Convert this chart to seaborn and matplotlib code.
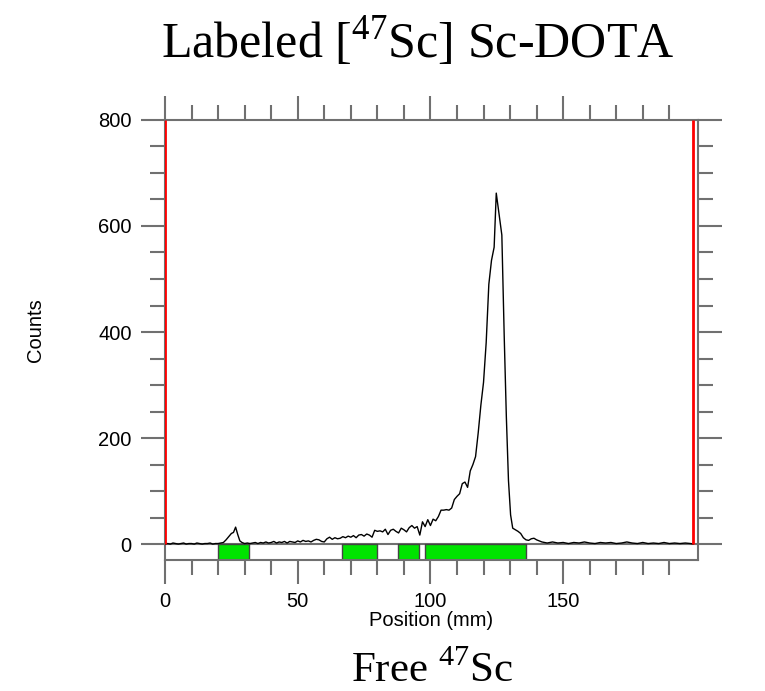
import numpy as np
import pandas as pd
import matplotlib
matplotlib.use('Agg')
import matplotlib.pyplot as plt
import seaborn as sns

# radio-TLC scan data
position = [0, 1, 2, 3, 4, 5, 6, 7, 8, 9, 10, 11, 12, 13, 14, 15, 16, 17, 18, 19, 20, 21,
            22, 23, 24, 25, 25.8, 26.6, 27.4, 28.2, 29, 30,
            31, 32, 33, 34, 35, 36, 37, 38, 39, 40, 41, 42, 43, 44, 45, 46, 47, 48, 49, 50,
            51, 52, 53, 54, 55, 56, 57, 58, 59, 60, 61, 62, 63, 64, 65, 66, 67, 68, 69, 70,
            71, 72, 73, 74, 75, 76, 77, 78, 79, 80, 81, 82, 83, 84, 85, 86, 87, 88, 89, 90,
            91, 92, 93, 94, 95, 96, 97, 98, 99, 100, 101, 102, 103, 104, 105, 106, 107, 108,
            109, 110, 111, 112, 113, 114, 115, 116, 117, 118, 119, 120, 121, 122, 123, 124,
            124.8, 126.9, 127.8, 128.6, 129.4, 130.2, 131, 132, 133, 134, 135, 136, 137, 138,
            139, 140, 141, 142, 143, 144, 146, 148, 150, 152, 154, 156, 158, 160, 162, 164,
            166, 168, 170, 172, 174, 176, 178, 180, 182, 184, 186, 188, 190, 192, 194, 196,
            198, 199]
counts = [0, 1, 0, 2, 1, 0, 1, 2, 0, 1, 1, 0, 2, 1, 0, 1, 1, 2, 0, 1, 1, 2,
          3, 8, 14, 20, 22, 32, 18, 6, 3, 1,
          2, 1, 2, 3, 1, 3, 2, 4, 2, 3, 5, 2, 4, 3, 5, 2, 5, 4, 3, 6,
          4, 7, 5, 6, 4, 7, 9, 8, 5, 4, 10, 13, 9, 12, 10, 11, 14, 12, 15, 13,
          16, 12, 17, 18, 15, 19, 17, 13, 26, 24, 25, 23, 28, 18, 26, 28, 24, 21, 30, 27,
          23, 31, 35, 30, 33, 17, 42, 33, 46, 35, 47, 44, 52, 64, 64, 65, 64, 68,
          84, 90, 95, 114, 117, 107, 138, 150, 165, 210, 262, 305, 380, 490, 535, 560,
          662, 583, 391, 240, 120, 55, 30, 27, 24, 20, 12, 8, 7, 10,
          11, 8, 6, 4, 3, 2, 4, 2, 3, 1, 3, 2, 4, 2, 1, 3,
          2, 3, 1, 2, 4, 2, 1, 3, 1, 2, 1, 3, 1, 2, 1, 2,
          1, 0]

# integration regions (green bars under the axis)
region_start = [20.0, 66.7, 87.8, 98.0]
region_end = [31.7, 80.0, 95.7, 136.1]

# origin / front markers
marker_pos = [0, 199]

df = pd.DataFrame({'Position': position, 'Counts': counts})

sns.set_style('white')
plt.rcParams['font.family'] = ['Liberation Sans', 'DejaVu Sans']
plt.rcParams['mathtext.fontset'] = 'custom'
plt.rcParams['mathtext.rm'] = 'Liberation Serif'

fig = plt.figure(figsize=(7.65, 6.91), dpi=100)
ax = fig.add_axes([0.2157, 0.1896, 0.6967, 0.6368])

grey = '#707070'

sns.lineplot(data=df, x='Position', y='Counts', color='black', lw=1.0, ax=ax, zorder=3)

for xm in marker_pos:
    ax.plot([xm, xm], [0, 800], color='red', lw=2, zorder=4, solid_capstyle='butt')

ax.axhline(0, color=grey, lw=1.5, zorder=2)
ax.broken_barh([(s, e - s) for s, e in zip(region_start, region_end)], (-30, 30),
               facecolors='#00e400', edgecolors='#444444', lw=1, zorder=2)

ax.set_xlim(0, 200.8)
ax.set_ylim(-30, 800)

ax.set_xticks([0, 50, 100, 150])
ax.set_xticks(np.arange(0, 200, 10), minor=True)
ax.set_yticks([0, 200, 400, 600, 800])
ax.set_yticks(np.arange(0, 801, 50), minor=True)

ax.tick_params(axis='both', which='both', direction='out', color=grey, width=1.5,
               labelsize=14.5, labelcolor='black')
ax.tick_params(axis='both', which='major', length=17)
ax.tick_params(axis='both', which='minor', length=11)
ax.tick_params(axis='x', which='both', top=True, bottom=True, labeltop=False, pad=6)
ax.tick_params(axis='y', which='both', left=True, right=True, labelright=False, pad=7)

for sp in ax.spines.values():
    sp.set_color(grey)
    sp.set_linewidth(1.5)

ax.set_xlabel('Position (mm)', fontsize=14.5, labelpad=0, color='black')
ax.set_ylabel('Counts', fontsize=14.5, color='black')
ax.yaxis.set_label_coords(-0.225, 0.523)

fig.text(417.5 / 765, 1 - 58 / 691, r'Labeled [$^{47}$Sc] Sc-DOTA',
         family='Liberation Serif', fontsize=36, ha='center', va='baseline', color='black')
fig.text(432 / 765, 1 - 682 / 691, r'Free $^{47}$Sc',
         family='Liberation Serif', fontsize=31, ha='center', va='baseline', color='black')

fig.savefig('out.png', dpi=100)
